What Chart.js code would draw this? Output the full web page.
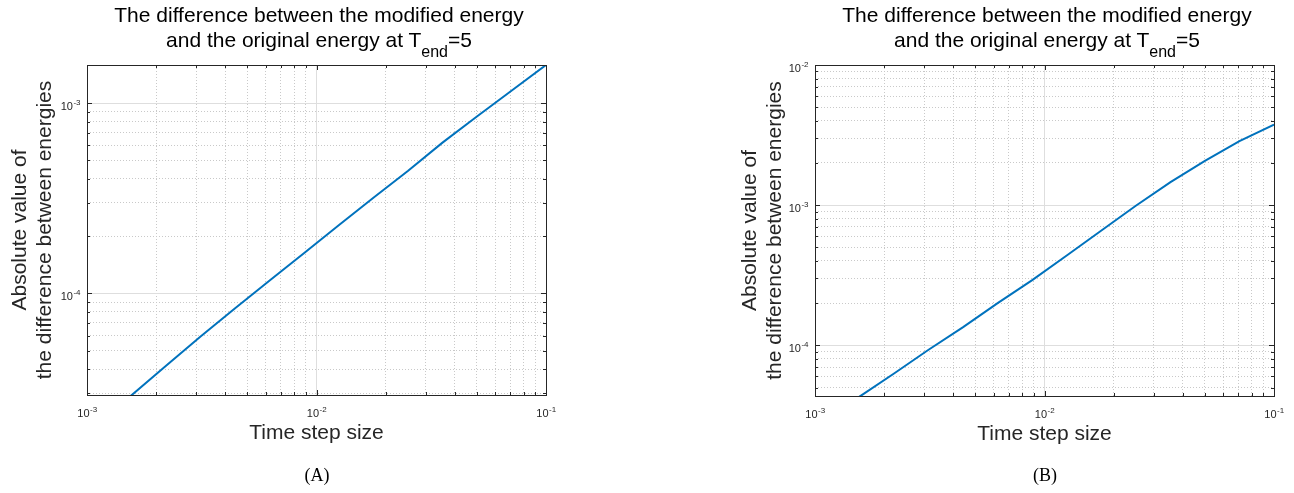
<!DOCTYPE html>
<html lang="en">
<head>
<meta charset="UTF-8">
<title>Energy difference versus time step</title>
<script src="https://cdn.jsdelivr.net/npm/chart.js@4.4.0/dist/chart.umd.min.js"></script>
<style>
  body { margin: 0; background: #fff; width: 1294px; height: 493px; position: relative; overflow: hidden;
         font-family: "Liberation Sans", Arial, sans-serif; }
  .panel { position: absolute; top: 0; width: 647px; height: 493px; }
  .ttl { position: absolute; top: 2px; width: 600px; text-align: center; font-size: 21px; line-height: 25px; color: #000; }
  .ttl sub { font-size: 16px; line-height: 0; vertical-align: -10px; }
  .cap { position: absolute; top: 465px; width: 100px; text-align: center; font-family: "Liberation Serif", serif; font-size: 18px; color: #000; }
</style>
</head>
<body>
<div class="panel" style="left:0"><canvas id="chartA" width="647" height="493"></canvas></div>
<div class="panel" style="left:647px"><canvas id="chartB" width="647" height="493"></canvas></div>

<div class="ttl" style="left:19px">The difference between the modified energy<br>and the original energy at T<sub>end</sub>=5</div>
<div class="ttl" style="left:747px">The difference between the modified energy<br>and the original energy at T<sub>end</sub>=5</div>
<div class="cap" style="left:267px">(A)</div>
<div class="cap" style="left:995px">(B)</div>

<script>
// time step sizes (halving by sqrt(2) each run)
const stepSizes = [0.1, 0.0707, 0.05, 0.0354, 0.025, 0.0177, 0.0125, 0.00884, 0.00625, 0.00442, 0.003125, 0.00221, 0.0015625, 0.0011];
// |E_mod - E_orig| at T_end = 5
const diffA = [1.585e-3, 1.16e-3, 8.5e-4, 6.2e-4, 4.4e-4, 3.18e-4, 2.28e-4, 1.63e-4, 1.17e-4, 8.36e-5, 5.94e-5, 4.17e-5, 2.92e-5, 2.04e-5];
const diffB = [3.76e-3, 2.86e-3, 2.07e-3, 1.46e-3, 9.9e-4, 6.6e-4, 4.37e-4, 2.92e-4, 2.0e-4, 1.35e-4, 9.3e-5, 6.3e-5, 4.3e-5, 2.9e-5];

const xRange = [1e-3, 1e-1];
const yRangeA = [2.93e-5, 1.585e-3];
const yRangeB = [4.35e-5, 1e-2];

// decade tick labels: base and exponent
const tickBase = '10';
const tickExponents = { '-5': '-5', '-4': '-4', '-3': '-3', '-2': '-2', '-1': '-1' };
const yTitle = ['Absolute value of', 'the difference between energies'];
const xTitle = 'Time step size';

const FONT = '"Liberation Sans", Arial, sans-serif';
const INK = '#262626';

// 1..9 x 10^n inside [min, max], decades flagged as major
function logTicks(min, max) {
    const out = [];
    for (let e = Math.floor(Math.log10(min)); e <= Math.ceil(Math.log10(max)); e++) {
        for (let m = 1; m <= 9; m++) {
            const v = m * Math.pow(10, e);
            if (v >= min * 0.9999 && v <= max * 1.0001) out.push({ value: v, major: m === 1 });
        }
    }
    return out;
}

// box around the plot, inward ticks on all four sides, 10^n labels with raised exponent
const axisBox = {
    id: 'axisBox',
    afterDraw(chart) {
        const { ctx, chartArea: a, scales } = chart;
        ctx.save();
        ctx.strokeStyle = INK;
        ctx.lineWidth = 1;
        ctx.beginPath();
        scales.x.ticks.forEach(t => {
            const px = Math.round(scales.x.getPixelForValue(t.value)) + 0.5;
            const len = t.major ? 5 : 3;
            ctx.moveTo(px, a.bottom); ctx.lineTo(px, a.bottom - len);
            ctx.moveTo(px, a.top); ctx.lineTo(px, a.top + len);
        });
        scales.y.ticks.forEach(t => {
            const py = Math.round(scales.y.getPixelForValue(t.value)) + 0.5;
            const len = t.major ? 5 : 3;
            ctx.moveTo(a.left, py); ctx.lineTo(a.left + len, py);
            ctx.moveTo(a.right, py); ctx.lineTo(a.right - len, py);
        });
        ctx.stroke();
        ctx.strokeRect(Math.round(a.left) + 0.5, Math.round(a.top) + 0.5,
                       Math.round(a.right - a.left), Math.round(a.bottom - a.top));

        ctx.fillStyle = INK;
        ctx.textBaseline = 'alphabetic';
        ctx.textAlign = 'left';
        const baseFont = '11px ' + FONT;
        const expFont = '8px ' + FONT;
        const label = (x, y, alignRight, value) => {
            const exp = tickExponents[String(Math.round(Math.log10(value)))];
            if (!exp) return;
            ctx.font = baseFont;
            const w1 = ctx.measureText(tickBase).width;
            ctx.font = expFont;
            const w2 = ctx.measureText(exp).width;
            const x0 = alignRight ? x - w1 - w2 : x - (w1 + w2) / 2;
            ctx.font = baseFont;
            ctx.fillText(tickBase, x0, y);
            ctx.font = expFont;
            ctx.fillText(exp, x0 + w1 + 0.5, y - 5);
        };
        scales.x.ticks.filter(t => t.major).forEach(t => {
            label(scales.x.getPixelForValue(t.value), a.bottom + 22, false, t.value);
        });
        scales.y.ticks.filter(t => t.major).forEach(t => {
            label(a.left - 7, scales.y.getPixelForValue(t.value) + 7, true, t.value);
        });
        ctx.restore();
    }
};

function makeChart(id, values, yRange, layout) {
    const ctx = document.getElementById(id).getContext('2d');
    const gridStyle = {
        color: c => (c.tick && c.tick.major) ? '#dedede' : '#c9c9c9',
        lineWidth: 1,
        drawTicks: false
    };
    const borderStyle = {
        display: false,
        dash: c => (c.tick && !c.tick.major) ? [1, 2] : []
    };
    return new Chart(ctx, {
        type: 'line',
        data: {
            datasets: [{
                data: stepSizes.map((s, i) => ({ x: s, y: values[i] })),
                borderColor: '#0072BD',
                borderWidth: 2,
                pointRadius: 0,
                tension: 0,
                fill: false,
                clip: 0
            }]
        },
        options: {
            responsive: false,
            animation: false,
            devicePixelRatio: 1,
            layout: { padding: layout.padding },
            plugins: { legend: { display: false }, tooltip: { enabled: false } },
            scales: {
                x: {
                    type: 'logarithmic',
                    min: xRange[0],
                    max: xRange[1],
                    afterBuildTicks: s => { s.ticks = logTicks(xRange[0], xRange[1]); },
                    afterFit: s => { s.height = 55; },
                    grid: gridStyle,
                    border: borderStyle,
                    ticks: { display: false, autoSkip: false, maxRotation: 0 },
                    title: {
                        display: true, text: xTitle, color: INK,
                        font: { family: FONT, size: 21, lineHeight: 1.215 },
                        padding: { top: 0, bottom: 4 }
                    }
                },
                y: {
                    type: 'logarithmic',
                    min: yRange[0],
                    max: yRange[1],
                    afterBuildTicks: s => { s.ticks = logTicks(yRange[0], yRange[1]); },
                    afterFit: s => { s.width = layout.yWidth; },
                    grid: gridStyle,
                    border: borderStyle,
                    ticks: { display: false, autoSkip: false },
                    title: {
                        display: true, text: yTitle, color: INK,
                        font: { family: FONT, size: 21, lineHeight: 1.215 },
                        padding: { top: layout.titleOffset, bottom: 0 }
                    }
                }
            }
        },
        plugins: [axisBox]
    });
}

makeChart('chartA', diffA, yRangeA, {
    padding: { left: 0, right: 101, top: 65, bottom: 43 },
    yWidth: 87,
    titleOffset: 7
});
makeChart('chartB', diffB, yRangeB, {
    padding: { left: 0, right: 20, top: 65, bottom: 42 },
    yWidth: 168,
    titleOffset: 90
});
</script>
</body>
</html>
